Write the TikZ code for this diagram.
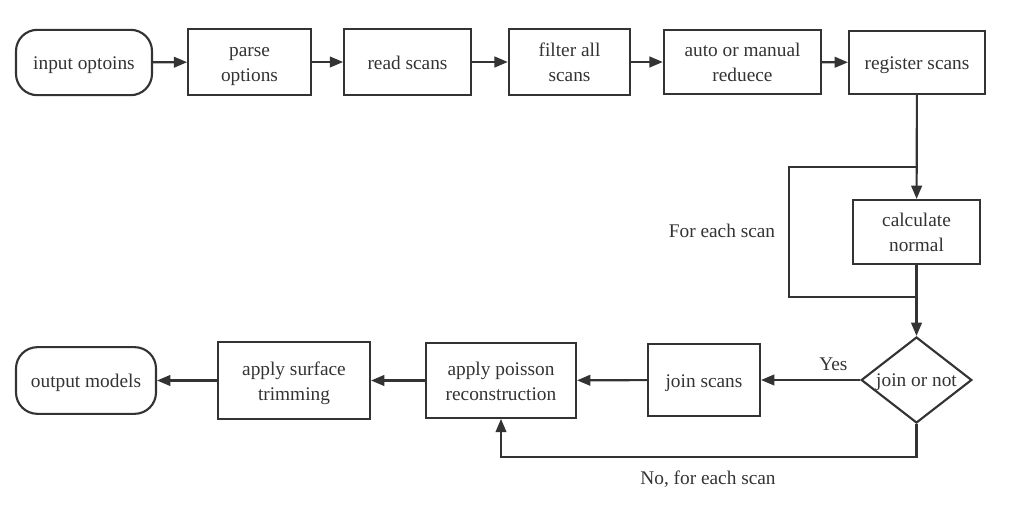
\documentclass[tikz,border=0pt]{standalone}
\usepackage{fontspec}
\setmainfont{Liberation Serif}
\usepackage{xcolor}
\usepackage{tikz}
\usetikzlibrary{shapes.geometric,arrows.meta,positioning}
\definecolor{linegray}{RGB}{51,51,51}
\newcommand{\boxstrut}{\rule[-3.8pt]{0pt}{18.8pt}}

\begin{document}
\begin{tikzpicture}[
    x=0.75pt, y=-0.75pt,
    every node/.style={font=\fontsize{14.5}{18.75}\selectfont, text=linegray},
    box/.style={rectangle, draw=linegray, line width=1.6pt, align=center, inner sep=0pt, minimum height=48pt,
        execute at end node=\boxstrut},
    term/.style={box, rounded corners=16pt, minimum height=49pt},
    decision/.style={diamond, draw=linegray, line width=1.6pt, inner sep=0pt, minimum width=83pt, minimum height=64.5pt},
    flow/.style={-{Triangle[length=10pt,width=8pt]}, line width=1.6pt, draw=linegray},
    plain/.style={line width=1.6pt, draw=linegray}
]
\useasboundingbox (0,0) rectangle (1028,509);

% top row
\node[term, minimum width=102pt] (input) at (84,62.5) {\boxstrut input optoins};
\node[box, minimum width=92pt, minimum height=49.5pt] (parse) at (249.5,62) {\boxstrut parse\\options};
\node[box, minimum width=95pt, minimum height=49.5pt] (read) at (407.5,62) {\boxstrut read scans};
\node[box, minimum width=91pt, minimum height=49.5pt] (filter) at (569.5,62) {\boxstrut filter all\\scans};
\node[box, minimum width=118pt] (reduce) at (742.5,62) {\boxstrut auto or manual\\reduece};
\node[box, minimum width=102pt, minimum height=47pt] (register) at (917,62.5) {\boxstrut register scans};

% right column
\node[box, minimum width=95pt] (normal) at (916.5,232) {\boxstrut calculate\\normal};
\node[decision, label={[yshift=-1.5pt]center:{join or not}}] (decide) at (916.5,380) {};

% bottom row
\node[box, minimum width=84pt, minimum height=54pt] (join) at (704,380) {\boxstrut join scans};
\node[box, minimum width=112.5pt, minimum height=56pt] (poisson) at (501,380.5) {\boxstrut apply poisson\\reconstruction};
\node[box, minimum width=114pt, minimum height=57.5pt] (trim) at (294,380.5) {\boxstrut apply surface\\trimming};
\node[term, minimum width=105pt, minimum height=50pt] (output) at (86,380.5) {\boxstrut output models};

\draw[flow] (input) -- (parse);
\draw[flow] (parse) -- (read);
\draw[flow] (read) -- (filter);
\draw[flow] (filter) -- (reduce);
\draw[flow] (reduce) -- (register);
\draw[flow] (register) -- (normal);
\draw[flow] (normal) -- (decide);

% loop for each scan
\coordinate (looptop) at (917,167);
\coordinate (loopbot) at (917,297);
\draw[plain] (loopbot) -- ++(-128,0) |- (looptop);
\node (eachscan) at (722,231) {For each scan};

\draw[flow] (decide) -- node[above=2.5pt, pos=0.27] {Yes} (join);
\draw[flow] (join) -- (poisson);
\draw[flow] (poisson) -- (trim);
\draw[flow] (trim) -- (output);
\draw[flow] (decide.south) -- ++(0,33) -| (poisson.south);
\node (noscan) at (708,479) {No, for each scan};
\end{tikzpicture}
\end{document}
